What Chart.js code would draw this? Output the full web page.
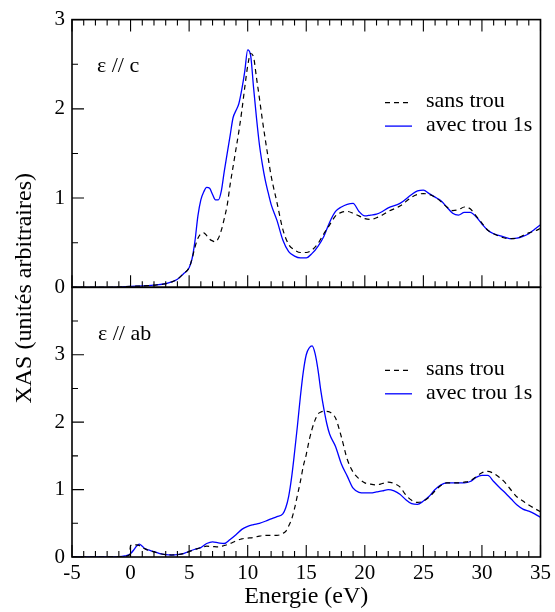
<!DOCTYPE html>
<html>
<head>
<meta charset="utf-8">
<script src="https://cdn.jsdelivr.net/npm/chart.js@4/dist/chart.umd.min.js"></script>
<style>
  html, body { margin: 0; padding: 0; background: #fff; }
  #wrap { position: relative; width: 555px; height: 612px; }
</style>
</head>
<body>
<div id="wrap"><canvas id="c" width="555" height="612"></canvas></div>
<script>
// ---------- DATA ----------
const topEnergy = [-5,-3,-1,0,1,2,3,3.5,4,4.5,5,5.25,5.5,5.75,6,6.25,6.5,6.75,7,7.25,7.5,7.75,8,8.25,8.5,8.75,9,9.25,9.5,9.75,10,10.25,10.5,10.75,11,11.25,11.5,11.75,12,12.5,13,13.5,14,14.5,15,15.5,16,16.5,17,17.5,18,18.5,19,19.5,20,20.5,21,21.5,22,23,24,24.5,25,25.5,26,26.5,27,27.5,28,28.5,29,29.5,30,30.5,31,31.5,32,32.5,33,33.5,34,34.5,35];
const topSansTrou = [0,0,0.002,0.01,0.015,0.025,0.04,0.06,0.09,0.15,0.22,0.32,0.45,0.55,0.6,0.61,0.58,0.54,0.52,0.51,0.55,0.64,0.77,0.92,1.15,1.35,1.55,1.75,1.98,2.24,2.48,2.62,2.58,2.35,2.12,1.88,1.66,1.45,1.25,0.95,0.65,0.48,0.42,0.39,0.39,0.42,0.49,0.6,0.7,0.8,0.84,0.85,0.83,0.8,0.77,0.76,0.78,0.81,0.85,0.91,1.01,1.04,1.05,1.04,1.01,0.96,0.9,0.86,0.87,0.9,0.88,0.8,0.72,0.64,0.6,0.57,0.55,0.545,0.55,0.58,0.61,0.63,0.66];
const topAvecTrou = [0,0,0.002,0.01,0.015,0.025,0.04,0.06,0.09,0.15,0.22,0.32,0.52,0.8,0.98,1.07,1.12,1.11,1.04,0.98,0.98,1.08,1.3,1.5,1.7,1.9,1.98,2.06,2.22,2.42,2.66,2.6,2.24,1.9,1.6,1.38,1.2,1.06,0.93,0.75,0.53,0.4,0.35,0.33,0.33,0.38,0.46,0.57,0.73,0.85,0.9,0.93,0.94,0.85,0.8,0.81,0.82,0.85,0.89,0.94,1.04,1.08,1.09,1.05,1.01,0.97,0.9,0.83,0.81,0.84,0.84,0.79,0.71,0.64,0.6,0.58,0.56,0.545,0.55,0.57,0.6,0.65,0.7];

const botEnergy = [-5,-3,-1,-0.5,-0.1,0,0.25,0.5,0.75,1,1.25,1.5,2,2.5,3,3.5,4,4.5,5,5.5,6,6.5,7,7.5,8,8.5,9,9.5,10,10.5,11,11.5,12,12.5,13,13.25,13.5,13.75,14,14.25,14.5,14.75,15,15.25,15.5,15.75,16,16.25,16.5,16.75,17,17.5,18,18.5,19,19.5,20,20.5,21,21.5,22,22.5,23,23.5,24,24.5,25,25.5,26,26.5,27,27.5,28,28.5,29,29.5,30,30.5,31,31.5,32,32.5,33,33.5,34,34.5,35];
const botSansTrou = [0,0,0.003,0.01,0.03,0.17,0.18,0.18,0.17,0.14,0.12,0.1,0.075,0.05,0.035,0.03,0.035,0.05,0.08,0.11,0.14,0.16,0.155,0.15,0.17,0.2,0.24,0.27,0.28,0.29,0.31,0.32,0.32,0.32,0.35,0.38,0.46,0.56,0.72,0.92,1.12,1.35,1.52,1.73,1.9,2.03,2.12,2.15,2.16,2.16,2.15,2.06,1.78,1.45,1.26,1.16,1.1,1.08,1.07,1.09,1.11,1.09,1.04,0.92,0.84,0.81,0.83,0.89,0.98,1.06,1.1,1.1,1.1,1.11,1.13,1.19,1.25,1.27,1.24,1.18,1.1,0.99,0.89,0.83,0.77,0.72,0.67];
const botAvecTrou = [0,0,0.005,0.015,0.035,0.05,0.1,0.16,0.19,0.16,0.12,0.105,0.08,0.05,0.035,0.03,0.035,0.05,0.085,0.115,0.14,0.2,0.225,0.21,0.2,0.26,0.33,0.41,0.455,0.48,0.5,0.53,0.565,0.6,0.64,0.73,0.9,1.18,1.55,1.95,2.38,2.75,3.0,3.1,3.13,3.02,2.78,2.46,2.2,1.98,1.82,1.64,1.38,1.2,1.02,0.96,0.95,0.95,0.965,0.98,1.0,0.98,0.93,0.85,0.79,0.78,0.83,0.9,1.0,1.07,1.1,1.1,1.1,1.1,1.12,1.18,1.21,1.21,1.12,1.03,0.95,0.86,0.77,0.71,0.68,0.64,0.59];

const seriesNames = ['sans trou', 'avec trou 1s'];
const panelLabels = ['\u03b5 // c', '\u03b5 // ab'];
const xTitle = 'Energie (eV)';
const yTitle = 'XAS (unit\u00e9s arbitraires)';
const xTicks = {min: -5, max: 35, step: 5};
const yTopRange = {min: 0, max: 3, step: 1};
const yBotRange = {min: 0, max: 4, step: 1};

// ---------- HELPERS ----------
const FONT = '"Liberation Serif", "Times New Roman", Times, serif';
const zip = (xs, ys) => xs.map((x, i) => ({x: x, y: ys[i]}));

const sansStyle = {borderColor: '#000000', borderWidth: 1.2, borderDash: [5, 4]};
const avecStyle = {borderColor: '#0000ff', borderWidth: 1.3, borderDash: []};

function ds(label, data, axis, style) {
  return Object.assign({
    label: label, data: data, yAxisID: axis,
    pointRadius: 0, fill: false, cubicInterpolationMode: 'monotone'
  }, style);
}

const framePlugin = {
  id: 'frame',
  afterDraw(chart) {
    const ctx = chart.ctx;
    const x = chart.scales.x, yt = chart.scales.yTop, yb = chart.scales.yBot;
    const L = x.left, R = x.right;
    ctx.save();
    ctx.strokeStyle = '#000';
    ctx.lineWidth = 1.6;
    ctx.strokeRect(L, yt.top, R - L, yt.bottom - yt.top);
    ctx.strokeRect(L, yb.top, R - L, yb.bottom - yb.top);
    ctx.lineWidth = 1.1;
    ctx.beginPath();
    // x ticks
    for (let v = xTicks.min; v <= xTicks.max; v += 1) {
      const px = x.getPixelForValue(v);
      const len = (v % 5 === 0) ? 12 : 6;
      ctx.moveTo(px, yt.top); ctx.lineTo(px, yt.top + len);
      ctx.moveTo(px, yt.bottom); ctx.lineTo(px, yt.bottom - len);
      ctx.moveTo(px, yb.bottom); ctx.lineTo(px, yb.bottom - len);
    }
    // y ticks
    for (let v = yTopRange.min; v <= yTopRange.max; v += 0.5) {
      const py = yt.getPixelForValue(v);
      const len = (v % 1 === 0) ? 12 : 6;
      ctx.moveTo(L, py); ctx.lineTo(L + len, py);
    }
    for (let v = yBotRange.min; v <= yBotRange.max; v += 0.5) {
      const py = yb.getPixelForValue(v);
      const len = (v % 1 === 0) ? 12 : 6;
      ctx.moveTo(L, py); ctx.lineTo(L + len, py);
    }
    ctx.stroke();

    // panel labels
    ctx.fillStyle = '#000';
    ctx.font = '22px ' + FONT;
    ctx.textAlign = 'left';
    ctx.textBaseline = 'middle';
    ctx.fillText(panelLabels[0], L + 25, yt.top + 47);
    ctx.fillText(panelLabels[1], L + 26, yb.top + 47);

    // legends
    const drawLegend = (yCenter) => {
      const styles = [sansStyle, avecStyle];
      ctx.font = '22px ' + FONT;
      for (let i = 0; i < 2; i++) {
        const yy = yCenter + i * 23.5;
        ctx.strokeStyle = styles[i].borderColor;
        ctx.lineWidth = styles[i].borderWidth;
        ctx.setLineDash(styles[i].borderDash);
        ctx.beginPath();
        ctx.moveTo(L + 313, yy + 1); ctx.lineTo(L + 340, yy + 1);
        ctx.stroke();
        ctx.setLineDash([]);
        ctx.fillStyle = '#000';
        ctx.fillText(seriesNames[i], L + 354, yy);
      }
    };
    drawLegend(yt.top + 82);
    drawLegend(yb.top + 82);

    // y title
    ctx.save();
    ctx.translate(25, (yt.top + yb.bottom) / 2);
    ctx.rotate(-Math.PI / 2);
    ctx.font = '24px ' + FONT;
    ctx.textAlign = 'center';
    ctx.textBaseline = 'middle';
    ctx.fillStyle = '#000';
    ctx.fillText(yTitle, 0, 0);
    ctx.restore();
    ctx.restore();
  }
};

const tickFont = {family: FONT, size: 21};

new Chart(document.getElementById('c'), {
  type: 'line',
  data: {
    datasets: [
      ds(seriesNames[0], zip(topEnergy, topSansTrou), 'yTop', sansStyle),
      ds(seriesNames[1], zip(topEnergy, topAvecTrou), 'yTop', avecStyle),
      ds(seriesNames[0], zip(botEnergy, botSansTrou), 'yBot', sansStyle),
      ds(seriesNames[1], zip(botEnergy, botAvecTrou), 'yBot', avecStyle)
    ]
  },
  options: {
    responsive: false,
    animation: false,
    events: [],
    layout: {padding: {left: 0, right: 12, top: 15, bottom: 0}},
    scales: {
      x: {
        type: 'linear', position: 'bottom',
        min: xTicks.min, max: xTicks.max,
        ticks: {stepSize: xTicks.step, color: '#000', font: tickFont, padding: 4, maxRotation: 0},
        grid: {display: false, drawTicks: false},
        border: {display: false},
        title: {display: true, text: xTitle, color: '#000', font: {family: FONT, size: 24}, padding: {top: 0, bottom: 1}},
        afterFit(s) { s.height = 55; }
      },
      yTop: {
        type: 'linear', position: 'left', stack: 'panels', stackWeight: 270, weight: 2,
        min: yTopRange.min, max: yTopRange.max,
        ticks: {stepSize: yTopRange.step, color: '#000', font: tickFont, padding: 7},
        grid: {display: false, drawTicks: false},
        border: {display: false},
        afterFit(s) { s.width = 72; }
      },
      yBot: {
        type: 'linear', position: 'left', stack: 'panels', stackWeight: 272, weight: 1,
        min: yBotRange.min, max: yBotRange.max,
        ticks: {stepSize: yBotRange.step, color: '#000', font: tickFont, padding: 7,
                callback: (v) => v === yBotRange.max ? '' : v},
        grid: {display: false, drawTicks: false},
        border: {display: false},
        afterFit(s) { s.width = 72; }
      }
    },
    plugins: {legend: {display: false}, tooltip: {enabled: false}}
  },
  plugins: [framePlugin]
});
</script>
</body>
</html>
